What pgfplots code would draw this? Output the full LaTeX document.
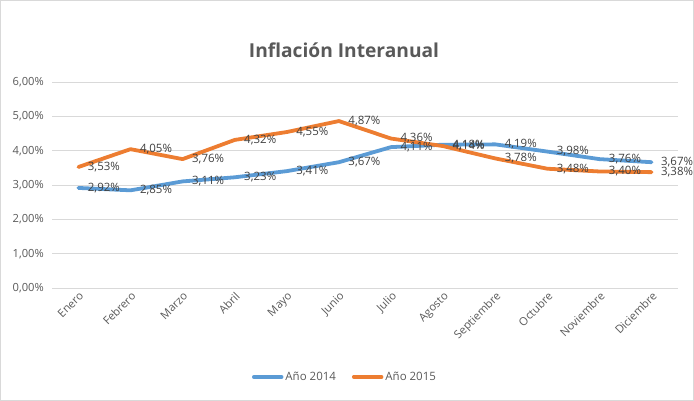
\documentclass[border=0pt]{standalone}
\usepackage{pgfplots}
\pgfplotsset{compat=1.18}
\usepackage{fontspec}
\setmainfont{Open Sans}
\definecolor{cblue}{HTML}{5B9BD5}
\definecolor{corange}{HTML}{ED7D31}
\definecolor{ticktxt}{HTML}{595959}
\definecolor{labtxt}{HTML}{404040}
\definecolor{gridc}{HTML}{D9D9D9}
\pgfplotstableread{
x v
0 2.92
1 2.85
2 3.11
3 3.23
4 3.41
5 3.67
6 4.11
7 4.18
8 4.19
9 3.98
10 3.76
11 3.67
}\seriesA
\pgfplotstableread{
x v
0 3.53
1 4.05
2 3.76
3 4.32
4 4.55
5 4.87
6 4.36
7 4.14
8 3.78
9 3.48
10 3.40
11 3.38
}\seriesB
\begin{document}
\begin{tikzpicture}[x=1pt,y=1pt]
\draw[use as bounding box, draw=gridc, line width=0.8pt] (0,0) rectangle (694,400);
\node[font=\fontsize{19.2}{23}\selectfont\bfseries, text=ticktxt] at (344,350) {Inflación Interanual};
\begin{axis}[
  at={(52pt,112pt)}, anchor=south west,
  scale only axis, width=626pt, height=206pt,
  xmin=-0.5, xmax=11.5, ymin=0, ymax=6,
  ytick={0,1,2,3,4,5,6},
  ymajorgrids, grid style={gridc, line width=0.8pt},
  axis line style={draw=none},
  axis x line*=bottom, axis y line*=left,
  major tick length=0pt,
  /pgf/number format/assume math mode=true,
  yticklabel={\pgfmathprintnumber[fixed,fixed zerofill,precision=2,use comma]{\tick}\%},
  yticklabel style={font=\fontsize{11.2}{13}\selectfont, text=ticktxt, xshift=-5pt},
  xtick={0,...,11},
  xticklabels={Enero,Febrero,Marzo,Abril,Mayo,Junio,Julio,Agosto,Septiembre,Octubre,Noviembre,Diciembre},
  xticklabel style={font=\fontsize{11.2}{13}\selectfont, text=ticktxt, rotate=45, anchor=north east, inner sep=2pt},
  legend style={at={(0.468,-0.432)}, anchor=center, draw=none, fill=none,
    font=\fontsize{11.5}{13}\selectfont, text=ticktxt, legend columns=2,
    /tikz/every even column/.append style={column sep=14pt}},
  legend image code/.code={\draw[#1, line width=3.5pt] (0pt,0pt) -- (28pt,0pt);},
]
\addplot[cblue, line width=3.8pt, line join=round, line cap=round] table[x=x,y=v] {\seriesA};
\addlegendentry{Año 2014}
\addplot[corange, line width=3.8pt, line join=round, line cap=round] table[x=x,y=v] {\seriesB};
\addlegendentry{Año 2015}
\addplot[draw=none, forget plot, nodes near coords, point meta=y,
  nodes near coords style={anchor=west, xshift=6pt, font=\fontsize{11.5}{13}\selectfont, text=labtxt,
  /pgf/number format/.cd, fixed, fixed zerofill, precision=2, use comma, assume math mode=true},
  nodes near coords={\pgfmathprintnumber{\pgfplotspointmeta}\%}] table[x=x,y=v] {\seriesA};
\addplot[draw=none, forget plot, nodes near coords, point meta=y,
  nodes near coords style={anchor=west, xshift=6pt, font=\fontsize{11.5}{13}\selectfont, text=labtxt,
  /pgf/number format/.cd, fixed, fixed zerofill, precision=2, use comma, assume math mode=true},
  nodes near coords={\pgfmathprintnumber{\pgfplotspointmeta}\%}] table[x=x,y=v] {\seriesB};
\end{axis}
\end{tikzpicture}
\end{document}
